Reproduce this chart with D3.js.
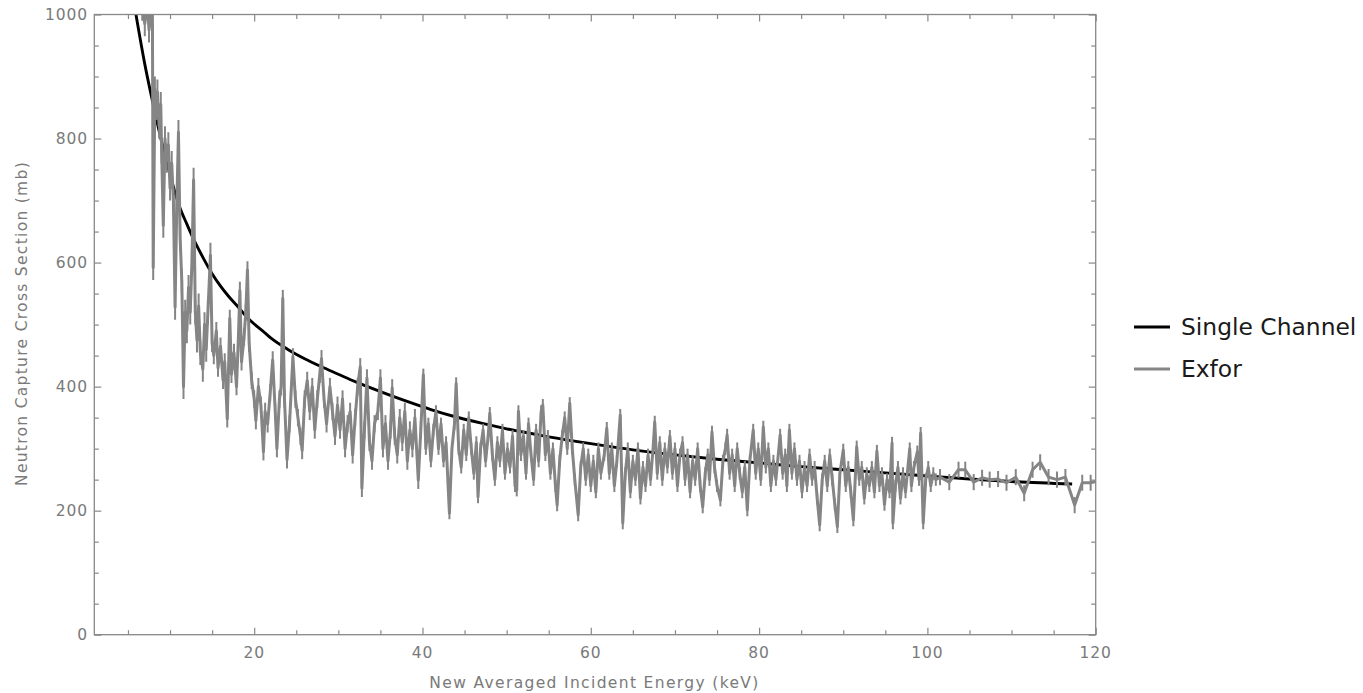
<!DOCTYPE html>
<html>
<head>
<meta charset="utf-8">
<script src="https://cdn.jsdelivr.net/npm/d3@7/dist/d3.min.js"></script>
<style>
  html, body { margin: 0; padding: 0; background: #fff; }
  svg { display: block; font-family: "DejaVu Sans", sans-serif; }
</style>
</head>
<body>
<svg id="chart" width="1363" height="693"></svg>
<script>
// Single-channel model: capture cross section (mb) vs energy (keV)
const modelEnergy = [5.95, 7, 8, 9, 10, 11, 12, 13, 14, 15, 16, 17, 18, 19, 20, 21, 22, 24, 26, 28, 30, 32, 35, 38, 41, 44, 47, 50, 55, 60, 65, 70, 75, 80, 85, 90, 95, 100, 105, 110, 117.2];
const modelSigma  = [1000, 920, 855, 795, 742, 695, 662, 632, 606, 582, 562, 545, 530, 514, 501, 490, 478, 460, 445, 432, 420, 408, 392, 377, 363, 351, 341, 332, 319, 308, 298, 290, 283, 277, 271, 266, 261, 256, 251, 247, 243];

// EXFOR measured points (keV, mb)
const exforEnergy = [
  6.4, 6.7, 7.0, 7.3, 7.5, 7.7, 7.9, 8.0, 8.2, 8.4, 8.5, 8.7, 8.9, 9.0, 9.2, 9.4, 9.6, 9.8,
  10.0, 10.2, 10.4, 10.6, 10.8, 11.0, 11.2, 11.4, 11.6, 11.8, 12.0, 12.2, 12.4, 12.6, 12.8,
  13.0, 13.2, 13.4, 13.6, 13.9, 14.1, 14.3, 14.5, 14.8, 15.0, 15.2, 15.5, 15.7, 16.0, 16.3,
  16.5, 16.8, 17.1, 17.3, 17.6, 17.9, 18.1, 18.3, 18.5, 18.8, 19.0, 19.2, 19.4, 19.7,
  20.0, 20.2, 20.5, 20.8, 21.1, 21.3, 21.6, 21.9, 22.2, 22.5, 22.7, 23.0, 23.2, 23.4, 23.6,
  23.9, 24.2, 24.6, 24.9, 25.2, 25.5, 25.7, 26.0, 26.3, 26.6, 26.9, 27.2, 27.5, 27.8, 28.0,
  28.3, 28.6, 29.0, 29.3, 29.6, 29.9, 30.2, 30.5, 30.8, 31.1, 31.4, 31.7, 32.0, 32.3, 32.6,
  32.8, 33.1, 33.4, 33.7, 34.0, 34.3, 34.7, 35.0, 35.3, 35.6, 35.9, 36.2, 36.4, 36.7, 37.0,
  37.3, 37.6, 37.9, 38.2, 38.5, 38.8, 39.1, 39.5, 39.8, 40.1, 40.4, 40.7, 41.0, 41.3, 41.6,
  41.9, 42.2, 42.5, 42.8, 43.2, 43.5, 43.8, 44.0, 44.3, 44.6, 44.9, 45.2, 45.5, 45.8, 46.1,
  46.4, 46.6, 46.9, 47.2, 47.5, 47.8, 48.0, 48.3, 48.6, 48.9, 49.2, 49.5, 49.8, 50.1, 50.4,
  50.7, 51.0, 51.2, 51.4, 51.7, 52.0, 52.3, 52.6, 52.9, 53.2, 53.5, 53.8, 54.1, 54.3, 54.6,
  54.9, 55.2, 55.5, 55.8, 56.0, 56.3, 56.6, 56.9, 57.2, 57.5, 57.8, 58.1, 58.5, 58.8, 59.1,
  59.4, 59.7, 60.0, 60.3, 60.6, 60.9, 61.2, 61.6, 61.9, 62.2, 62.5, 62.8, 63.1, 63.5, 63.8,
  64.1, 64.4, 64.7, 65.0, 65.3, 65.6, 65.9, 66.2, 66.5, 66.8, 67.1, 67.4, 67.6, 67.9, 68.2,
  68.5, 68.8, 69.1, 69.4, 69.7, 70.0, 70.3, 70.6, 70.9, 71.2, 71.5, 71.8, 72.1, 72.4, 72.7,
  73.0, 73.3, 73.6, 73.9, 74.1, 74.4, 74.7, 75.0, 75.4, 75.7, 76.0, 76.2, 76.5, 76.8, 77.1,
  77.4, 77.7, 78.0, 78.3, 78.6, 78.9, 79.3, 79.6, 79.9, 80.2, 80.5, 80.8, 81.1, 81.4, 81.7,
  82.0, 82.5, 82.8, 83.1, 83.3, 83.6, 83.9, 84.2, 84.5, 84.8, 85.1, 85.4, 85.7, 86.0, 86.3,
  86.6, 86.9, 87.2, 87.5, 87.8, 88.1, 88.4, 88.7, 89.0, 89.3, 89.6, 90.0, 90.3, 90.6, 90.9,
  91.2, 91.6, 91.9, 92.2, 92.5, 92.8, 93.1, 93.4, 93.7, 94.0, 94.3, 94.6, 94.9, 95.2, 95.5,
  95.8, 95.9, 96.2, 96.5, 96.8, 97.1, 97.4, 97.9, 98.1, 98.4, 98.8, 99.0, 99.2, 99.5, 99.8,
  100.1, 100.4, 100.7, 101.0,
  101.5, 102.6, 103.7, 104.5, 105.5, 106.5, 107.4, 108.4, 109.4, 110.5, 111.5, 112.5, 113.4,
  114.4, 115.4, 116.4, 117.5, 118.4, 119.4, 120.4
];
const exforSigma = [
  1040, 1010, 985, 1020, 975, 1000, 1030, 592, 880, 850, 875, 820, 855, 780, 660, 800, 765, 790,
  720, 760, 700, 528, 690, 810, 640, 570, 400, 520, 490, 560, 520, 600, 733,
  520, 475, 530, 455, 428, 500, 460, 520, 612, 470, 450, 490, 430, 465, 410,
  440, 348, 510, 420, 455, 400, 470, 555, 440, 480, 520, 588, 470, 410,
  380, 345, 400, 370, 295, 360, 340, 390, 443, 360, 300, 380, 400, 542, 380,
  282, 340, 448, 380, 350, 320, 297, 380, 410, 360, 400, 330, 380, 420, 445,
  380, 340, 400, 360, 320, 370, 330, 380, 300, 340, 360, 290, 350, 400, 432,
  236, 330, 414, 310, 280, 340, 360, 414, 300, 340, 280, 330, 398, 320, 290,
  350, 310, 360, 280, 330, 300, 350, 249, 330, 419, 300, 340, 280, 330, 360,
  300, 340, 280, 310, 196, 300, 340, 405, 300, 270, 330, 290, 350, 300, 260,
  310, 222, 300, 330, 280, 320, 357, 290, 250, 310, 280, 330, 260, 300, 270,
  320, 240, 233, 360, 290, 320, 260, 340, 290, 250, 330, 280, 360, 370, 290,
  320, 260, 300, 240, 209, 280, 320, 350, 300, 373, 300, 250, 193, 270, 300,
  250, 290, 240, 280, 230, 300, 260, 290, 333, 260, 300, 240, 280, 354, 180,
  260, 300, 230, 280, 250, 300, 220, 270, 240, 290, 250, 300, 343, 260, 310,
  250, 300, 270, 320, 260, 300, 240, 290, 310, 250, 290, 230, 280, 250, 300,
  240, 206, 260, 290, 250, 327, 270, 240, 217, 280, 300, 322, 260, 290, 240,
  300, 260, 230, 270, 201, 280, 330, 260, 300, 250, 335, 270, 300, 240, 280,
  250, 322, 260, 290, 240, 330, 260, 300, 250, 280, 230, 270, 240, 290, 250,
  270, 220, 177, 250, 280, 240, 290, 250, 210, 174, 260, 298, 240, 270, 230,
  185, 303, 250, 270, 220, 260, 240, 270, 230, 296, 240, 260, 210, 250, 230,
  309, 180, 240, 270, 220, 260, 230, 300, 240, 270, 295, 250, 325, 180, 250,
  270, 240, 260, 250,
  254, 246, 266, 266, 246, 253, 250, 251, 245, 254, 228, 266, 278,
  254, 250, 254, 209, 245, 245, 248
];
// Uncertainty (mb) by energy band: [band start keV, half-width]
const exforErrBands = [[0, 20], [15, 14], [40, 10], [101.2, 13]];

const xTicks = [20, 40, 60, 80, 100, 120];
const yTicks = [0, 200, 400, 600, 800, 1000];
const xLabel = "New Averaged Incident Energy (keV)";
const yLabel = "Neutron Capture Cross Section (mb)";
const legendLabels = ["Single Channel", "Exfor"];

const svg = d3.select("#chart");
const plotLeft = 94.3, plotRight = 1095.7, plotTop = 14.5, plotBottom = 634.7;
const frameColor = "#888888";
const textColor = "#7a7a7a";

const x = d3.scaleLinear().domain([1, 120]).range([plotLeft, plotRight]);
const y = d3.scaleLinear().domain([0, 1000]).range([plotBottom, plotTop]);

svg.append("defs").append("clipPath").attr("id", "plotClip")
  .append("rect").attr("x", plotLeft).attr("y", plotTop)
  .attr("width", plotRight - plotLeft).attr("height", plotBottom - plotTop);

const model = modelEnergy.map((e, i) => ({ e, s: modelSigma[i] }));
const exfor = exforEnergy.map((e, i) => {
  let err = 0;
  exforErrBands.forEach(b => { if (e >= b[0]) err = b[1]; });
  return { e, s: exforSigma[i], err };
});

const plot = svg.append("g").attr("clip-path", "url(#plotClip)");

// model curve
plot.append("path").datum(model)
  .attr("fill", "none").attr("stroke", "#000").attr("stroke-width", 2.9)
  .attr("d", d3.line().x(d => x(d.e)).y(d => y(d.s)).curve(d3.curveMonotoneX));

// measured data: error bars + joined line
const gray = "#858585";
plot.append("g").selectAll("line").data(exfor).join("line")
  .attr("x1", d => x(d.e)).attr("x2", d => x(d.e))
  .attr("y1", d => y(d.s - d.err)).attr("y2", d => y(d.s + d.err))
  .attr("stroke", gray).attr("stroke-width", 2);
plot.append("path").datum(exfor)
  .attr("fill", "none").attr("stroke", gray).attr("stroke-width", 3)
  .attr("stroke-linejoin", "round")
  .attr("d", d3.line().x(d => x(d.e)).y(d => y(d.s)));

// frame with inward ticks on all four sides
const frame = svg.append("g");
const xMinor = d3.range(5, 121, 5);
const yMinor = d3.range(0, 1001, 50);

function tickLen(v, majors) { return majors.includes(v) ? 7 : 4.5; }

const gB = frame.append("g").attr("transform", `translate(0,${plotBottom})`).call(d3.axisBottom(x).tickValues(xMinor).tickFormat("").tickSize(0));
const gT = frame.append("g").attr("transform", `translate(0,${plotTop})`).call(d3.axisTop(x).tickValues(xMinor).tickFormat("").tickSize(0));
const gL = frame.append("g").attr("transform", `translate(${plotLeft},0)`).call(d3.axisLeft(y).tickValues(yMinor).tickFormat("").tickSize(0));
const gR = frame.append("g").attr("transform", `translate(${plotRight},0)`).call(d3.axisRight(y).tickValues(yMinor).tickFormat("").tickSize(0));

[gB, gT, gL, gR].forEach(g => g.select(".domain").remove());
gB.selectAll(".tick line").attr("y2", d => -tickLen(d, xTicks));
gT.selectAll(".tick line").attr("y2", d => tickLen(d, xTicks));
gL.selectAll(".tick line").attr("x2", d => tickLen(d, yTicks));
gR.selectAll(".tick line").attr("x2", d => -tickLen(d, yTicks));
frame.selectAll(".tick line").attr("stroke", frameColor).attr("stroke-width", 1.2);

frame.append("rect").attr("x", plotLeft).attr("y", plotTop)
  .attr("width", plotRight - plotLeft).attr("height", plotBottom - plotTop)
  .attr("fill", "none").attr("stroke", frameColor).attr("stroke-width", 1.3);

// tick labels
svg.append("g").selectAll("text").data(xTicks).join("text")
  .attr("x", d => x(d)).attr("y", 658)
  .attr("text-anchor", "middle").attr("fill", textColor)
  .attr("font-size", 15.5).attr("letter-spacing", 0.9)
  .text(d => d);
svg.append("g").selectAll("text").data(yTicks).join("text")
  .attr("x", 88).attr("y", d => y(d) + 5.5)
  .attr("text-anchor", "end").attr("fill", textColor)
  .attr("font-size", 15.5).attr("letter-spacing", 0.9)
  .text(d => d);

// axis titles
svg.append("text").attr("x", 594.5).attr("y", 688)
  .attr("text-anchor", "middle").attr("fill", textColor)
  .attr("font-size", 15.5).attr("letter-spacing", 1.35)
  .text(xLabel);
svg.append("text").attr("transform", "translate(27,323.5) rotate(-90)")
  .attr("text-anchor", "middle").attr("fill", textColor)
  .attr("font-size", 15.5).attr("letter-spacing", 1.3)
  .text(yLabel);

// legend
const legend = svg.append("g");
const legendColors = ["#000", gray];
legendLabels.forEach((lab, i) => {
  const ly = 327 + i * 42;
  legend.append("line").attr("x1", 1134).attr("x2", 1170)
    .attr("y1", ly).attr("y2", ly)
    .attr("stroke", legendColors[i]).attr("stroke-width", 3);
  legend.append("text").attr("x", 1181).attr("y", ly + 8)
    .attr("fill", "#1a1a1a").attr("font-size", 23.4)
    .text(lab);
});
</script>
</body>
</html>
